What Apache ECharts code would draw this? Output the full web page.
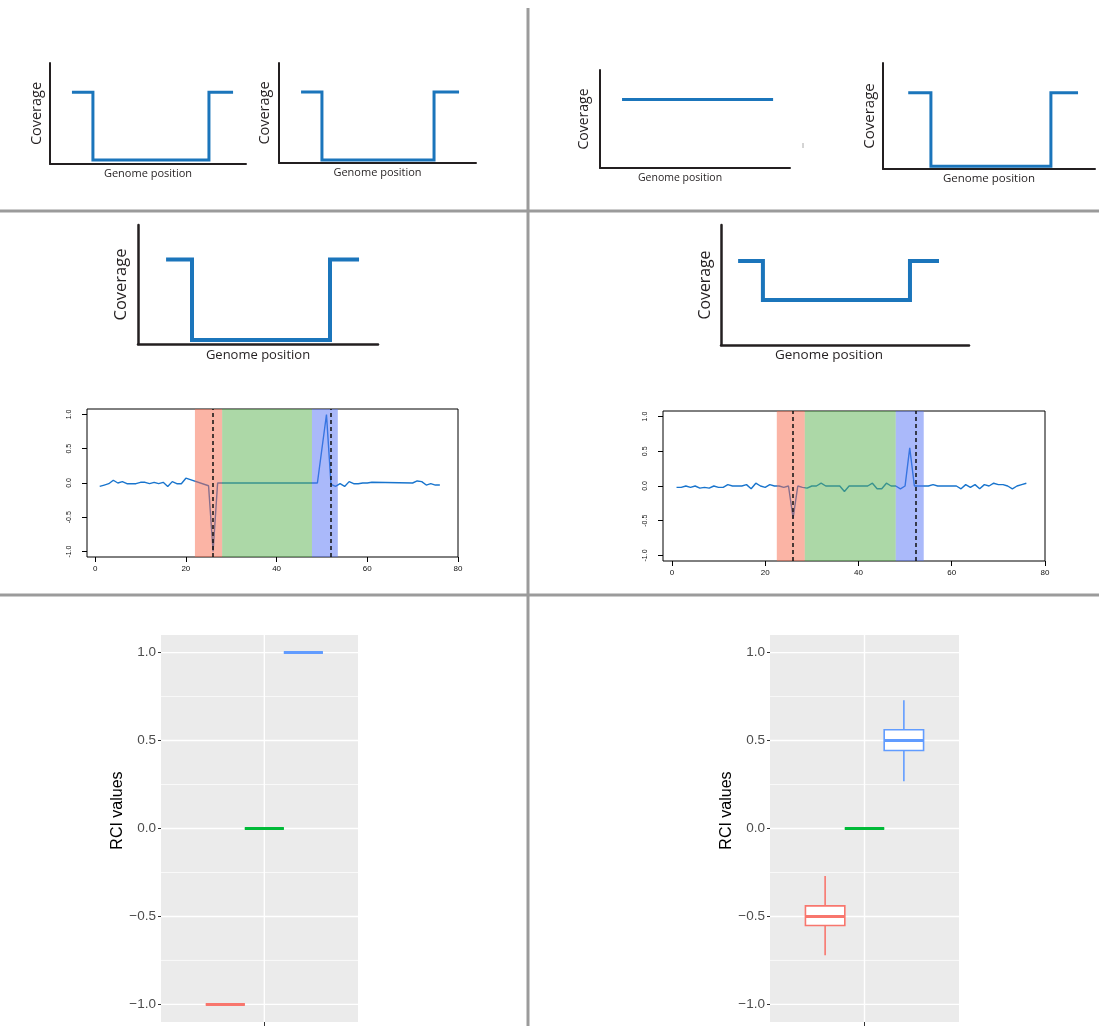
<!DOCTYPE html>
<html><head><meta charset="utf-8">
<script src="https://cdn.jsdelivr.net/npm/echarts@6/dist/echarts.min.js"></script>
<style>html,body{margin:0;padding:0;background:#fff}#c{width:1099px;height:1026px}</style>
</head><body><div id="c"></div>
<script>
// ---------------- data ----------------
// cartoon coverage profiles (x: genome position 0-100, y: coverage 0-100)
const coverageDropA = [[11.2,71],[21.9,71],[21.9,4],[81.1,4],[81.1,71],[93.4,71]];
const coverageDropB = [[11.2,71],[21.8,71],[21.8,3],[78.7,3],[78.7,71],[91.4,71]];
const coverageFlat  = [[11.6,70],[91.1,70]];
const coverageDropC = [[11.9,72],[22.6,72],[22.6,2.5],[79.2,2.5],[79.2,72],[92,72]];
const coverageDropD = [[11.7,71],[22.5,71],[22.5,3.4],[80,3.4],[80,71],[92.1,71]];
const coverageHalf  = [[6.9,70],[16.9,70],[16.9,37.5],[76.2,37.5],[76.2,70],[87.9,70]];

// RCI traces along the genome
const rciTraceLeft = [[1,-0.05],[2,-0.03],[3,-0.01],[4,0.04],[5,0],[6,0.02],[7,-0.01],[8,-0.01],[9,-0.01],[10,0.01],
  [11,0.01],[12,-0.01],[13,0.01],[14,-0.01],[15,0.01],[16,-0.05],[17,0.02],[18,-0.01],[19,-0.01],[20,0.07],
  [25,-0.04],[26,-1.0],[27,0.0],[49,0.0],[51,1.0],[52,-0.02],[53,-0.05],[54,-0.01],[55,-0.05],[56,0.02],
  [57,-0.01],[58,-0.01],[59,0.0],[60,0.0],[61,0.01],[70,0.0],[71,0.03],[72,0.02],[73,-0.03],[74,-0.01],[75,-0.03],[76,-0.03]];
const rciTraceRight = [[1,-0.02],[2,-0.02],[3,0],[4,-0.02],[5,0],[6,-0.03],[7,-0.02],[8,-0.03],[9,0],[10,-0.02],
  [11,-0.02],[12,0.02],[13,0],[14,0],[15,0],[16,0.02],[17,-0.04],[18,0.04],[19,0],[20,-0.02],
  [21,0.02],[22,0],[23,0],[24,-0.02],[25,0],[26,-0.46],[27,0],[28,-0.02],[29,-0.03],[30,0],
  [31,0],[32,0.04],[33,0],[34,0],[35,0],[36,0],[37,-0.08],[38,0],[39,0],[40,0],
  [41,0],[42,0],[43,0.04],[44,-0.04],[45,-0.04],[46,0.04],[47,0],[48,0],[49,-0.04],[50,0],
  [51,0.55],[52,0],[53,0],[54,0],[55,0],[56,0.02],[57,0],[58,0],[59,0],[60,0],
  [61,0],[62,-0.04],[63,0.02],[64,-0.02],[65,0.02],[66,-0.04],[67,0.02],[68,0],[69,0.04],[70,0.02],
  [71,0.02],[72,0],[73,-0.04],[74,0],[75,0.02],[76,0.04]];
const regionsLeft  = [[22,28],[28,47.8],[47.8,53.5]];
const regionsRight = [[22.5,28.5],[28.5,48],[48,54]];
const breakpointsLeft  = [26,52];
const breakpointsRight = [26,52.2];
const traceXTicks = [0,20,40,60,80];
const traceYTicks = [-1,-0.5,0,0.5,1];

// RCI box statistics [low, q1, median, q3, high] for deletion / neutral / duplication
const rciStatsSingle = [[-1,-1,-1,-1,-1],[0,0,0,0,0],[1,1,1,1,1]];
const rciStatsMixed  = [[-0.72,-0.551,-0.5,-0.44,-0.27],[0,0,0,0,0],[0.269,0.443,0.5,0.561,0.729]];
const rciMajorBreaks = [-1,-0.5,0,0.5,1];
const rciMinorBreaks = [-0.75,-0.25,0.25,0.75];

// ---------------- styles ----------------
const BLUE = '#1B75BB';
const INK = '#231F20';
const CARTOON_FONT = 'Open Sans';
const REGION_FILLS = ['rgba(247,105,76,0.5)','rgba(89,178,80,0.5)','rgba(86,116,246,0.5)'];
const BOX_COLORS = ['#F8766D','#00BA38','#619CFF'];
const BOX_WIDTH = 0.25;

const grids = [];
const xAxes = [];
const yAxes = [];
const series = [];

function addCartoon(g, data, cfg) {
  const idx = grids.length;
  grids.push({left:g[0], top:g[1], width:g[2], height:g[3], show:false, containLabel:false});
  xAxes.push({gridIndex:idx, type:'value', min:0, max:100,
    axisLine:{show:true, onZero:false, lineStyle:{color:INK, width:cfg.axisW}},
    axisTick:{show:false}, axisLabel:{show:false}, splitLine:{show:false},
    name:'Genome position', nameLocation:'middle', nameGap:cfg.genGap,
    nameTextStyle:{fontFamily:CARTOON_FONT, fontSize:cfg.genSize, color:INK,
      padding: cfg.genShift ? [0, cfg.genShift*2, 0, 0] : 0}});
  yAxes.push({gridIndex:idx, type:'value', min:0, max:100,
    axisLine:{show:true, onZero:false, lineStyle:{color:INK, width:cfg.axisW}},
    axisTick:{show:false}, axisLabel:{show:false}, splitLine:{show:false},
    name:'Coverage', nameLocation:'middle', nameGap:cfg.covGap,
    nameTextStyle:{fontFamily:CARTOON_FONT, fontSize:cfg.covSize, color:INK}});
  series.push({type:'line', xAxisIndex:idx, yAxisIndex:idx, data:data, symbol:'none', showSymbol:false,
    silent:true, animation:false,
    lineStyle:{color:BLUE, width:cfg.lw, join:'miter', cap:'butt'}});
}

addCartoon([50,63,196,101], coverageDropA, {axisW:2, lw:3, covSize:14.5, covGap:5.5, genSize:11, genGap:4});
addCartoon([279,63,197,100], coverageDropB, {axisW:2, lw:3, covSize:14.5, covGap:6.5, genSize:11, genGap:4});
addCartoon([600,70,190,98], coverageFlat, {axisW:2, lw:3, covSize:14, covGap:8.5, genSize:10.5, genGap:5, genShift:15});
addCartoon([883,63,212,106], coverageDropC, {axisW:2, lw:3, covSize:15, covGap:5.5, genSize:11.5, genGap:4});
addCartoon([138,225,240,119], coverageDropD, {axisW:2.5, lw:4, covSize:16.5, covGap:8.5, genSize:13, genGap:5});
addCartoon([721,225,248,120], coverageHalf, {axisW:2.5, lw:4, covSize:15.8, covGap:7.5, genSize:13.5, genGap:3, genShift:16});

function addTrace(g, xmin, trace, regions, breaks) {
  const idx = grids.length;
  grids.push({left:g[0], top:g[1], width:g[2], height:g[3], show:true, borderColor:'#000', borderWidth:1,
    backgroundColor:'transparent'});
  xAxes.push({gridIndex:idx, type:'value', min:xmin, max:80,
    axisLine:{show:false, onZero:false}, splitLine:{show:false},
    axisTick:{show:true, customValues:traceXTicks, length:5, lineStyle:{color:'#000', width:1}},
    axisLabel:{show:true, customValues:traceXTicks, fontSize:8, margin:8, color:'#111', fontFamily:'Liberation Sans'}});
  yAxes.push({gridIndex:idx, type:'value', min:-1.08, max:1.08,
    axisLine:{show:false, onZero:false}, splitLine:{show:false},
    axisTick:{show:true, customValues:traceYTicks, length:5, lineStyle:{color:'#000', width:1}},
    axisLabel:{show:true, customValues:traceYTicks, rotate:90, fontSize:7, margin:14, color:'#111',
      fontFamily:'Liberation Sans', formatter:v => v.toFixed(1)}});
  series.push({type:'line', xAxisIndex:idx, yAxisIndex:idx, data:trace, symbol:'none', showSymbol:false,
    silent:true, animation:false, z:2, lineStyle:{color:'#1874CD', width:1.4}});
  series.push({type:'custom', xAxisIndex:idx, yAxisIndex:idx, data:regions, z:3, silent:true, animation:false,
    renderItem:(params, api) => {
      const cs = params.coordSys;
      const x0 = api.coord([api.value(0), 0])[0];
      const x1 = api.coord([api.value(1), 0])[0];
      return {type:'rect', shape:{x:x0, y:cs.y, width:x1-x0, height:cs.height},
        style:{fill:REGION_FILLS[params.dataIndex]}};
    },
    markLine:{symbol:['none','none'], silent:true, animation:false, label:{show:false},
      lineStyle:{color:'#111', type:[4,3], width:1.5},
      data:breaks.map(v => ({xAxis:v}))}});
}

addTrace([87,409,371,148], -1.8, rciTraceLeft, regionsLeft, breakpointsLeft);
addTrace([663,411,382,150], -1.9, rciTraceRight, regionsRight, breakpointsRight);

function addBoxPanel(g, xmin, xmax, stats) {
  const idx = grids.length;
  grids.push({left:g[0], top:g[1], width:g[2], height:g[3], show:true, borderWidth:0, backgroundColor:'#EBEBEB'});
  xAxes.push({gridIndex:idx, type:'value', min:xmin, max:xmax,
    axisLine:{show:false, onZero:false}, splitLine:{show:false}, axisLabel:{show:false},
    axisTick:{show:true, customValues:[1], length:4, lineStyle:{color:'#333', width:1}}});
  yAxes.push({gridIndex:idx, type:'value', min:-1.1, max:1.1,
    axisLine:{show:false, onZero:false}, splitLine:{show:false},
    axisTick:{show:true, customValues:rciMajorBreaks, length:3, lineStyle:{color:'#333', width:1}},
    axisLabel:{show:true, customValues:rciMajorBreaks, fontSize:13.5, margin:5, color:'#4D4D4D',
      fontFamily:'Liberation Sans', formatter:v => (v < 0 ? '\u2212' : '') + Math.abs(v).toFixed(1)},
    name:'RCI values', nameLocation:'middle', nameGap:34,
    nameTextStyle:{fontFamily:'Liberation Sans', fontSize:16, color:'#000', padding:[0,0,0,36]}});
  const hLine = (w) => (params, api) => {
    const cs = params.coordSys;
    const y = api.coord([1, api.value(1)])[1];
    return {type:'line', shape:{x1:cs.x, y1:y, x2:cs.x+cs.width, y2:y}, style:{stroke:'#fff', lineWidth:w}};
  };
  series.push({type:'custom', xAxisIndex:idx, yAxisIndex:idx, z:1, silent:true, animation:false,
    data:rciMinorBreaks.map(v => [1, v]), renderItem:hLine(0.7)});
  series.push({type:'custom', xAxisIndex:idx, yAxisIndex:idx, z:1, silent:true, animation:false,
    data:rciMajorBreaks.map(v => [1, v]), renderItem:hLine(1.4)});
  series.push({type:'custom', xAxisIndex:idx, yAxisIndex:idx, z:1, silent:true, animation:false,
    data:[[1, 0]], renderItem:(params, api) => {
      const cs = params.coordSys;
      const x = api.coord([api.value(0), 0])[0];
      return {type:'line', shape:{x1:x, y1:cs.y, x2:x, y2:cs.y+cs.height}, style:{stroke:'#fff', lineWidth:1.4}};
    }});
  series.push({type:'custom', xAxisIndex:idx, yAxisIndex:idx, z:3, silent:true, animation:false,
    encode:{x:0, y:[1,2,3,4,5]},
    data:stats.map((s, i) => [1 + (i - 1) * BOX_WIDTH].concat(s)),
    renderItem:(params, api) => {
      const x = api.value(0);
      const low = api.coord([x, api.value(1)]);
      const q1 = api.coord([x, api.value(2)]);
      const med = api.coord([x, api.value(3)]);
      const q3 = api.coord([x, api.value(4)]);
      const high = api.coord([x, api.value(5)]);
      const hw = api.size([BOX_WIDTH, 0])[0] / 2;
      const color = BOX_COLORS[params.dataIndex];
      return {type:'group', children:[
        {type:'line', shape:{x1:low[0], y1:low[1], x2:q1[0], y2:q1[1]}, style:{stroke:color, lineWidth:1.6}},
        {type:'line', shape:{x1:q3[0], y1:q3[1], x2:high[0], y2:high[1]}, style:{stroke:color, lineWidth:1.6}},
        {type:'rect', shape:{x:q3[0]-hw, y:q3[1], width:2*hw, height:q1[1]-q3[1]},
          style:{fill:'#fff', stroke:color, lineWidth:1.6}},
        {type:'line', shape:{x1:med[0]-hw, y1:med[1], x2:med[0]+hw, y2:med[1]}, style:{stroke:color, lineWidth:3}}
      ]};
    }});
}

addBoxPanel([161,635,197,387], 0.338, 1.6, rciStatsSingle);
addBoxPanel([770,635,189,387], 0.4, 1.6, rciStatsMixed);

const chart = echarts.init(document.getElementById('c'), null, {renderer:'canvas'});
chart.setOption({
  animation:false,
  backgroundColor:'#fff',
  textStyle:{fontFamily:'Liberation Sans'},
  grid:grids, xAxis:xAxes, yAxis:yAxes, series:series,
  graphic:[
    {type:'line', silent:true, shape:{x1:528, y1:8, x2:528, y2:1026}, style:{stroke:'#9B9B9B', lineWidth:3}},
    {type:'line', silent:true, shape:{x1:0, y1:211, x2:1099, y2:211}, style:{stroke:'#9B9B9B', lineWidth:3}},
    {type:'line', silent:true, shape:{x1:0, y1:595, x2:1099, y2:595}, style:{stroke:'#9B9B9B', lineWidth:3}},
    {type:'line', silent:true, shape:{x1:803, y1:143, x2:803, y2:148}, style:{stroke:'#AAAAAA', lineWidth:1}}
  ]
});
</script>
</body></html>
